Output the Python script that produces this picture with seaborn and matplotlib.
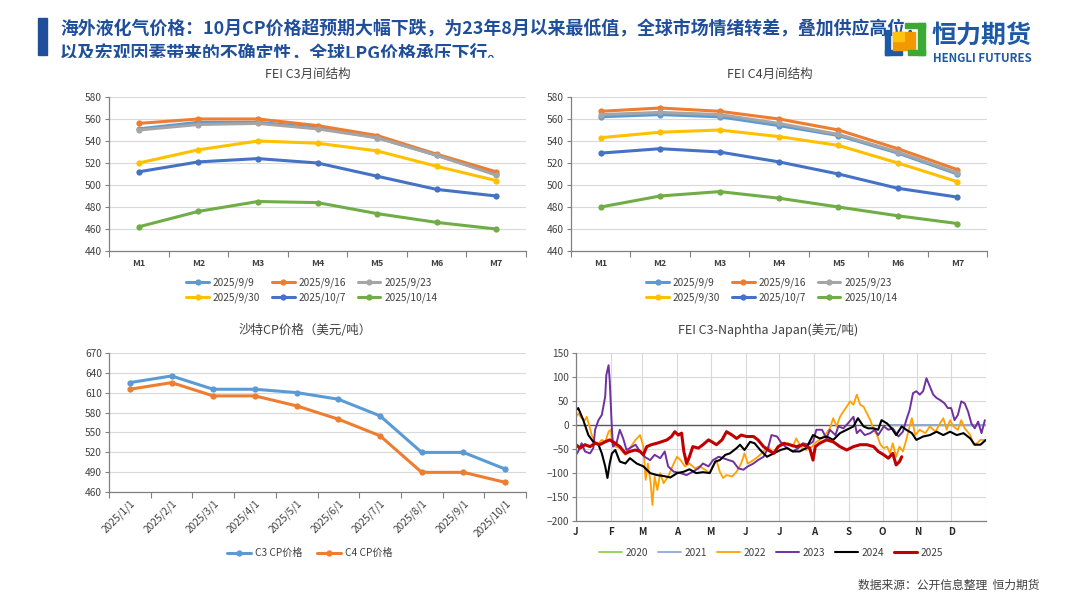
import numpy as np
import pandas as pd
import matplotlib
matplotlib.use("Agg")
import matplotlib.pyplot as plt
import matplotlib.patches as mpatches
from matplotlib.ticker import FixedLocator
import seaborn as sns

# ---------------- data ----------------
months = ["M1", "M2", "M3", "M4", "M5", "M6", "M7"]
curve_dates = ["2025/9/9", "2025/9/16", "2025/9/23", "2025/9/30", "2025/10/7", "2025/10/14"]
curve_colors = ["#5B9BD5", "#ED7D31", "#A5A5A5", "#FFC000", "#4472C4", "#70AD47"]

c3_0909 = [551, 557, 557, 552, 543, 527, 510]
c3_0916 = [556, 560, 560, 554, 545, 528, 512]
c3_0923 = [550, 555, 556, 551, 543, 527, 509]
c3_0930 = [520, 532, 540, 538, 531, 517, 504]
c3_1007 = [512, 521, 524, 520, 508, 496, 490]
c3_1014 = [462, 476, 485, 484, 474, 466, 460]

c4_0909 = [562, 564, 562, 554, 545, 529, 510]
c4_0916 = [567, 570, 567, 560, 550, 533, 514]
c4_0923 = [564, 566, 564, 556, 546, 530, 511]
c4_0930 = [543, 548, 550, 544, 536, 520, 503]
c4_1007 = [529, 533, 530, 521, 510, 497, 489]
c4_1014 = [480, 490, 494, 488, 480, 472, 465]

cp_months = ["2025/1/1", "2025/2/1", "2025/3/1", "2025/4/1", "2025/5/1",
             "2025/6/1", "2025/7/1", "2025/8/1", "2025/9/1", "2025/10/1"]
cp_c3 = [625, 635, 615, 615, 610, 600, 575, 520, 520, 495]
cp_c4 = [615, 625, 605, 605, 590, 570, 545, 490, 490, 475]

# FEI C3 - Naphtha Japan spread, day of year vs value
days_2020 = [277, 300, 330, 365]
vals_2020 = [0, 0, 0, 0]
days_2021 = [277, 300, 330, 365]
vals_2021 = [0, 0, 0, 0]

days_2022 = [0, 2, 5, 8, 9.5, 12, 14, 17, 20, 23, 26, 29, 31, 32, 35, 39, 44, 47, 50, 53,
             57, 60, 62, 64, 66.5, 68, 70, 72.4, 75, 78, 82, 87, 90, 93, 97, 101, 106, 110,
             115, 119, 122, 125, 128, 131, 134, 139, 143, 147, 150, 153, 158, 162, 167, 171,
             176, 180, 185, 189, 193, 196, 201, 205, 210, 214, 219, 223, 226, 229, 232, 235,
             238, 241, 244, 247, 250, 253, 256, 259, 262, 265, 268, 271, 274, 277, 279.5, 282,
             285, 288, 291, 294, 297, 299, 302, 306, 311, 315, 320, 324, 327, 330, 333, 336,
             340, 343, 346, 351, 354, 357, 360, 364]
vals_2022 = [17, 24, 14, 10, 17, -3, -21, -35, -38, -31, -35, -14, -10, -38, -45, -48, -62, -52, -41, -31,
             -21, -45, -114, -80, -121, -166, -107, -135, -100, -121, -107, -80, -66, -73, -86, -80, -90, -86,
             -93, -100, -86, -73, -97, -110, -104, -107, -97, -80, -59, -80, -73, -66, -55, -45,
             -59, -45, -41, -38, -45, -28, -48, -52, -45, -35, -28, -17, -7, 14, -3, 17,
             28, 38, 49, 42, 63, 42, 38, 24, 10, -10, -21, -41, -48, -45, -59, -38,
             -66, -45, -55, -31, -3, 14, -21, -10, -17, -3, -14, 3, 14, -10, 10, -3,
             -10, 10, -7, -21, -41, -38, -31, -31]

days_2023 = [0, 2, 5, 8, 12.5, 15.4, 17, 20, 23, 26, 27, 29, 30, 32, 33, 36, 39, 42, 45, 48,
             53, 57, 61, 66, 70, 75, 79, 82, 87, 93, 98.5, 104, 109, 113, 118, 122, 127, 131,
             136, 140, 144.5, 149, 153, 158, 162, 167, 171, 174, 179, 183, 188, 193, 198, 202,
             207, 211, 214, 219, 223, 226, 231, 233.5, 238, 242, 247, 250, 253, 257, 262, 266,
             269, 274, 278, 282, 287, 291, 294, 297, 300, 303, 306, 309, 312, 315, 318, 321,
             324, 328, 331, 334, 337, 340, 343, 346, 349, 352, 355, 358, 361, 364]
vals_2023 = [-62, -55, -38, -55, -59, -48, -10, 10, 21, 59, 104, 124, 93, -10, -45, -38, -10, -28, -52, -48,
             -41, -55, -66, -73, -62, -69, -55, -86, -97, -100, -104, -97, -90, -80, -86, -73, -66, -69,
             -73, -76, -90, -93, -86, -80, -73, -66, -48, -21, -24, -38, -48, -55, -48, -38,
             -41, -35, -10, -10, -28, -10, -21, -3, -7, 3, 17, -17, -10, -21, -17, -10,
             -21, -3, -10, -7, -24, -14, 10, 31, 66, 70, 63, 70, 97, 80, 63, 56,
             52, 45, 35, 35, 10, 21, 49, 45, 28, 3, -7, 7, -17, 10]

days_2024 = [0, 2, 6.5, 11, 15.4, 20, 23, 26, 28, 30, 32, 35, 39, 44, 48, 54, 60, 66, 72, 78,
             84, 90, 96, 101, 107, 113, 119, 124, 128, 133, 137, 143, 146, 150, 155, 159, 164, 170,
             176, 182, 188, 193, 199, 205, 211, 217, 223, 229, 235, 241, 247, 251, 256, 260,
             265, 269, 272, 277, 281, 285, 290, 294, 299, 303, 309, 315, 321, 327, 333, 339,
             345, 351, 355, 360, 365]
vals_2024 = [31, 35, 10, -21, -35, -41, -59, -86, -110, -80, -59, -52, -76, -80, -69, -80, -86, -100, -104, -106,
             -109, -100, -97, -92, -100, -98, -100, -76, -73, -62, -59, -48, -41, -52, -35, -38, -52, -66,
             -59, -52, -48, -55, -55, -48, -21, -28, -24, -31, -17, -10, -3, 14, -3, -7,
             -7, -10, 10, 3, -7, -21, -3, -10, -17, -31, -24, -21, -14, -21, -14, -21,
             -17, -28, -41, -41, -31]

days_2025 = [0, 3.6, 8, 12.5, 17, 21, 26, 30, 35, 39, 44, 48, 53, 57, 60, 63, 67, 72, 76, 81,
             85, 88, 91, 94, 96, 98.5, 101, 104, 109, 113, 118, 121, 125, 130, 134, 139, 143, 147,
             152, 158, 162, 167, 171, 176, 180, 185, 190, 196, 202, 208, 211, 213, 217, 223,
             229, 235, 241, 247, 253, 259, 265, 269, 274, 278, 282, 285, 288, 290]
vals_2025 = [-41, -48, -41, -45, -38, -41, -35, -31, -38, -45, -59, -55, -52, -55, -62, -45, -41, -38, -35, -31,
             -24, -14, -21, -17, -55, -80, -66, -45, -48, -41, -31, -35, -41, -31, -14, -21, -28, -21,
             -24, -24, -31, -45, -52, -59, -45, -38, -41, -45, -41, -48, -73, -45, -38, -31,
             -35, -45, -52, -45, -41, -41, -45, -55, -62, -69, -59, -83, -76, -66]

month_letters = ["J", "F", "M", "A", "M", "J", "J", "A", "S", "O", "N", "D"]
month_start_days = [0, 31, 59, 90, 120, 151, 181, 212, 243, 273, 304, 334]

# ---------------- style ----------------
sns.set_theme(style="white")
plt.rcParams["font.family"] = ["Noto Sans CJK SC", "DejaVu Sans"]
plt.rcParams["axes.unicode_minus"] = True

AXIS_C = "#808080"
GRID_C = "#D9D9D9"
TEXT_C = "#404040"

W, H = 1080, 608


def fx(x):
    return x / W


def fy(y):
    return 1 - y / H


def base_style(ax):
    ax.set_facecolor("white")
    for s in ["top", "right"]:
        ax.spines[s].set_visible(False)
    for s in ["left", "bottom"]:
        ax.spines[s].set_color(AXIS_C)
        ax.spines[s].set_linewidth(0.9)
    ax.yaxis.grid(True, color=GRID_C, lw=0.8)
    ax.set_axisbelow(True)
    ax.tick_params(axis="y", which="major", length=3, width=0.8, color=AXIS_C,
                   labelsize=7.3, labelcolor=TEXT_C, pad=2, left=True)
    ax.set_xlabel("")
    ax.set_ylabel("")


def category_x(ax, n, labels, **kw):
    ax.set_xlim(-0.5, n - 0.5)
    ax.set_xticks(range(n))
    ax.set_xticklabels(labels, **kw)
    ax.xaxis.set_minor_locator(FixedLocator(np.arange(-0.5, n, 1.0)))
    ax.tick_params(axis="x", which="major", length=0)
    ax.tick_params(axis="x", which="minor", length=4, width=0.8, color=AXIS_C,
                   bottom=True, direction="out")


def row_major(items, ncol):
    # matplotlib fills legend columns first; reorder so rows read left to right
    nrow = int(np.ceil(len(items) / ncol))
    return [items[r * ncol + c] for c in range(ncol) for r in range(nrow)
            if r * ncol + c < len(items)]


fig = plt.figure(figsize=(10.8, 6.08), dpi=100)
fig.patch.set_facecolor("white")


def curve_panel(rect, series, title, title_xy, leg_xy):
    ax = fig.add_axes(rect)
    rows = []
    for d, vals in zip(curve_dates, series):
        for i, v in enumerate(vals):
            rows.append({"pos": i, "date": d, "price": v})
    df = pd.DataFrame(rows)
    sns.lineplot(data=df, x="pos", y="price", hue="date", hue_order=curve_dates,
                 palette=curve_colors, marker="o", markersize=4.5, markeredgewidth=0,
                 lw=2.2, legend=False, ax=ax)
    base_style(ax)
    ax.set_ylim(440, 580)
    ax.set_yticks(range(440, 581, 20))
    category_x(ax, 7, months, fontsize=6.5, color=TEXT_C, fontweight="bold")
    ax.tick_params(axis="x", which="major", pad=6)
    fig.text(fx(title_xy[0]), fy(title_xy[1]), title, ha="center", va="center",
             fontsize=9, color=TEXT_C)
    ax.legend(row_major(ax.lines[:6], 3), row_major(curve_dates, 3), loc="center", ncol=3,
              bbox_to_anchor=(fx(leg_xy[0]), fy(leg_xy[1])), bbox_transform=fig.transFigure,
              frameon=False, fontsize=7.3, handlelength=2.2, handletextpad=0.4,
              columnspacing=1.2, labelspacing=0.4, labelcolor=TEXT_C)
    return ax


ax1 = curve_panel([fx(109), fy(251), fx(526 - 109), (251 - 97) / H],
                  [c3_0909, c3_0916, c3_0923, c3_0930, c3_1007, c3_1014],
                  "FEI C3月间结构", (308, 74), (312, 290.5))
ax2 = curve_panel([fx(571), fy(251), fx(987 - 571), (251 - 97) / H],
                  [c4_0909, c4_0916, c4_0923, c4_0930, c4_1007, c4_1014],
                  "FEI C4月间结构", (770, 74), (772, 290.5))

# Saudi CP panel
ax3 = fig.add_axes([fx(109), fy(492.3), fx(417), (492.3 - 352.7) / H])
cp_df = pd.DataFrame({"pos": list(range(len(cp_months))) * 2,
                      "price": cp_c3 + cp_c4,
                      "item": ["C3 CP价格"] * len(cp_c3) + ["C4 CP价格"] * len(cp_c4)})
sns.lineplot(data=cp_df, x="pos", y="price", hue="item", palette=["#5B9BD5", "#ED7D31"],
             marker="o", markersize=4.5, markeredgewidth=0, lw=2.2, legend=False, ax=ax3)
base_style(ax3)
ax3.set_ylim(460, 670)
ax3.set_yticks(range(460, 671, 30))
category_x(ax3, len(cp_months), cp_months, fontsize=7.3, color=TEXT_C, rotation=45,
           ha="right", rotation_mode="anchor")
ax3.tick_params(axis="x", which="major", pad=4)
fig.text(fx(305), fy(330), "沙特CP价格（美元/吨）", ha="center", va="center",
         fontsize=9, color=TEXT_C)
ax3.legend(ax3.lines[:2], ["C3 CP价格", "C4 CP价格"], loc="center", ncol=2,
           bbox_to_anchor=(fx(310), fy(553)), bbox_transform=fig.transFigure,
           frameon=False, fontsize=7.3, handlelength=2.4, handletextpad=0.4,
           columnspacing=1.4, labelcolor=TEXT_C)

# FEI C3 - Naphtha panel
ax4 = fig.add_axes([fx(576), fy(521.3), fx(410), (521.3 - 352.7) / H])
ax4.axhline(0, color="#595959", lw=1.0, zorder=1)
years = ["2020", "2021", "2022", "2023", "2024", "2025"]
year_days = [days_2020, days_2021, days_2022, days_2023, days_2024, days_2025]
year_vals = [vals_2020, vals_2021, vals_2022, vals_2023, vals_2024, vals_2025]
year_colors = ["#92D050", "#8EA9DB", "#FFA000", "#7030A0", "#000000", "#C00000"]
year_lw = [1.3, 1.3, 1.3, 1.4, 1.5, 2.2]
handles = []
for y, d, v, c, w in zip(years, year_days, year_vals, year_colors, year_lw):
    sns.lineplot(x=d, y=v, color=c, lw=w, estimator=None, sort=False, ax=ax4)
    handles.append(ax4.lines[-1])
base_style(ax4)
ax4.set_xlim(0, 365)
ax4.set_ylim(-200, 150)
ax4.set_yticks(range(-200, 151, 50))
ax4.set_xticks(month_start_days + [365])
ax4.set_xticklabels(month_letters + [""], fontsize=7, color="#262626", fontweight="bold")
ax4.tick_params(axis="x", length=0, pad=4)
ax4.xaxis.grid(True, color=GRID_C, lw=0.8)
fig.text(fx(768), fy(330), "FEI C3-Naphtha Japan(美元/吨)", ha="center", va="center",
         fontsize=9, color=TEXT_C)
ax4.legend(handles, years, loc="center", ncol=6,
           bbox_to_anchor=(fx(771), fy(553)), bbox_transform=fig.transFigure,
           frameon=False, fontsize=7.3, handlelength=2.3, handletextpad=0.4,
           columnspacing=0.9, labelcolor=TEXT_C)

# ---------------- header ----------------
fig.add_artist(mpatches.Rectangle((fx(38), fy(55)), fx(9), 37 / H, color="#1F4E9A",
                                  transform=fig.transFigure))
head_c = "#1F4E9A"
fig.text(fx(60), fy(29), "海外液化气价格：10月CP价格超预期大幅下跌，为23年8月以来最低值，全球市场情绪转差，叠加供应高位，",
         ha="left", va="center", fontsize=12.9, fontweight="bold", color=head_c)
fig.text(fx(60), fy(53), "以及宏观因素带来的不确定性，全球LPG价格承压下行。",
         ha="left", va="center", fontsize=12.9, fontweight="bold", color=head_c)
# strip that clips the second line
fig.add_artist(mpatches.Rectangle((fx(50), fy(66)), fx(830), 8 / H, color="white",
                                  transform=fig.transFigure, zorder=5))

# logo
logo_parts = [
    ((885, 30), 5, 25, "#1D5AA6"),
    ((885, 50), 17, 5, "#1D5AA6"),
    ((893, 32), 22, 18, "#F39800"),
    ((893, 32), 11, 9, "#FFC20E"),
    ((918, 23), 7, 32, "#3AAA35"),
    ((905, 23), 20, 5, "#3AAA35"),
    ((908, 50), 17, 5, "#3AAA35"),
]
for (x0, y0), w, h, c in logo_parts:
    fig.add_artist(mpatches.Rectangle((fx(x0), fy(y0 + h)), fx(w), h / H, color=c,
                                      transform=fig.transFigure, zorder=6))
fig.text(fx(932), fy(36), "恒力期货", ha="left", va="center", fontsize=18,
         fontweight="bold", color="#1D5AA6", zorder=7)
fig.text(fx(933), fy(59), "HENGLI FUTURES", ha="left", va="center", fontsize=8.3,
         fontweight="bold", color="#1D5AA6", zorder=7)

# footer
fig.text(fx(1040), fy(585), "数据来源：公开信息整理  恒力期货", ha="right", va="center",
         fontsize=8.5, color="#404040")

fig.savefig("out.png", dpi=100, facecolor="white")
